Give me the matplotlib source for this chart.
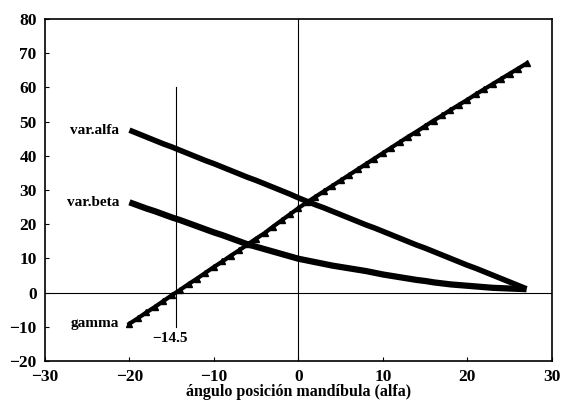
import numpy as np
import matplotlib
matplotlib.use("Agg")
import matplotlib.pyplot as plt

plt.rcParams["font.family"] = ["Liberation Serif", "DejaVu Serif"]
plt.rcParams["font.weight"] = "bold"
plt.rcParams["axes.labelweight"] = "bold"

# angulo posicion mandibula (alfa), grados
alfa = list(range(-20, 28))

var_alfa = [47.5, 46.5, 45.5, 44.5, 43.5, 42.6, 41.6, 40.6, 39.6, 38.6,
            37.7, 36.7, 35.7, 34.7, 33.7, 32.8, 31.8, 30.8, 29.8, 28.8,
            27.7, 26.7, 25.7, 24.8, 23.8, 22.8, 21.8, 20.8, 19.8, 18.9,
            17.9, 16.9, 15.9, 14.9, 13.9, 13.0, 12.0, 11.0, 10.0, 9.0,
            8.0, 7.1, 6.1, 5.1, 4.1, 3.1, 2.1, 1.1]

var_beta = [26.4, 25.5, 24.6, 23.8, 22.9, 22.0, 21.2, 20.3, 19.4, 18.5,
            17.6, 16.8, 15.9, 15.0, 14.1, 13.4, 12.7, 12.0, 11.3, 10.6,
            9.9, 9.4, 8.9, 8.4, 7.9, 7.5, 7.1, 6.7, 6.3, 5.8,
            5.3, 4.9, 4.5, 4.1, 3.7, 3.4, 3.0, 2.7, 2.4, 2.2,
            2.0, 1.8, 1.6, 1.4, 1.3, 1.2, 1.1, 1.0]

gamma = [-9.1, -7.5, -5.8, -4.2, -2.5, -0.8, 0.8, 2.5, 4.1, 5.8,
         7.5, 9.1, 10.8, 12.4, 14.1, 15.8, 17.4, 19.3, 21.1, 22.9,
         24.7, 26.4, 28.0, 29.6, 31.2, 32.8, 34.4, 36.0, 37.6, 39.2,
         40.8, 42.4, 44.0, 45.6, 47.1, 48.7, 50.3, 51.8, 53.4, 54.9,
         56.4, 58.0, 59.5, 61.0, 62.5, 64.0, 65.5, 67.0]

corte_gamma = -14.5

fig = plt.figure(figsize=(5.62, 4.0), dpi=100)
ax = fig.add_axes([0.080, 0.0975, 0.902, 0.855])

# ejes de referencia
ax.axhline(0, color="black", lw=0.8, zorder=1)
ax.axvline(0, color="black", lw=0.8, zorder=1)
ax.plot([corte_gamma, corte_gamma], [-10, 60], color="black", lw=0.8, zorder=1)

ax.plot(alfa, var_alfa, color="black", lw=4, solid_capstyle="butt", zorder=3)
ax.plot(alfa, var_beta, color="black", lw=4.5, solid_capstyle="butt", zorder=3)
ax.plot(alfa, gamma, color="black", lw=3, marker="^", ms=4.5, zorder=3)

ax.text(alfa[0] - 1.2, var_alfa[0], "var.alfa", ha="right", va="center", fontsize=11)
ax.text(alfa[0] - 1.2, var_beta[0], "var.beta", ha="right", va="center", fontsize=11)
ax.text(alfa[0] - 1.2, gamma[0], "gamma", ha="right", va="center", fontsize=11)
ax.text(corte_gamma - 0.7, -13.3, "\u221214.5", ha="center", va="center", fontsize=11)

ax.set_xlim(-30, 30)
ax.set_ylim(-20, 80)
ax.set_xticks(np.arange(-30, 31, 10))
ax.set_yticks(np.arange(-20, 81, 10))
ax.tick_params(direction="in", length=3, width=0.8, labelsize=12.5)
ax.tick_params(axis="x", pad=6)
ax.tick_params(axis="y", pad=6)
ax.set_xlabel("ángulo posición mandíbula (alfa)", fontsize=11.5, labelpad=-1)
for s in ax.spines.values():
    s.set_linewidth(1.2)

fig.savefig("out.png", dpi=100)
